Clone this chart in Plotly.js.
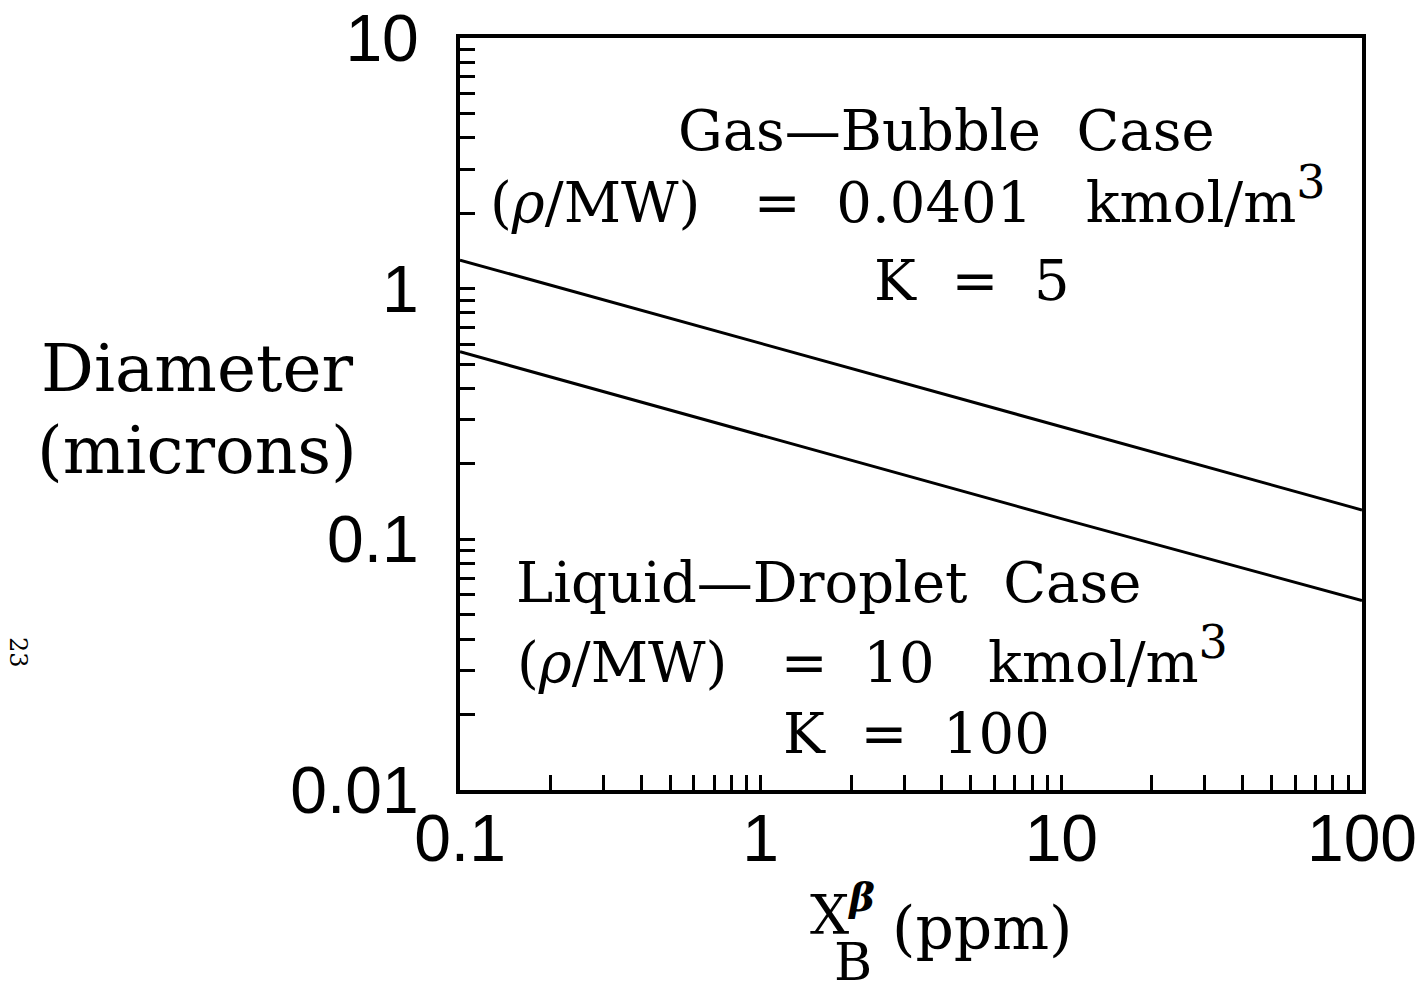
<!DOCTYPE html>
<html>
<head>
<meta charset="utf-8">
<script src="https://cdn.plot.ly/plotly-3.0.1.min.js"></script>
<style>html,body{margin:0;padding:0;background:#fff;}#chart{width:1423px;height:996px;}</style>
</head>
<body>
<div id="chart"></div>
<script>
// Data
const xPpm = [0.1, 1, 10, 100];
const gasBubbleDiameter = [1.30, 0.605, 0.280, 0.131];
const liquidDropletDiameter = [0.56, 0.26, 0.121, 0.057];

const xTickVals = [0.1,0.2,0.3,0.4,0.5,0.6,0.7,0.8,0.9,1,2,3,4,5,6,7,8,9,10,20,30,40,50,60,70,80,90,100];
const xTickText = ['0.1','','','','','','','','','1','','','','','','','','','10','','','','','','','','','100'];
const yTickVals = [0.01,0.02,0.03,0.04,0.05,0.06,0.07,0.08,0.09,0.1,0.2,0.3,0.4,0.5,0.6,0.7,0.8,0.9,1,2,3,4,5,6,7,8,9,10];
const yTickText = ['0.01','','','','','','','','','0.1','','','','','','','','','1','','','','','','','','','10'];

const serif = 'DejaVu Serif';
const sans = 'Liberation Sans';

const traces = [
  {x: xPpm, y: gasBubbleDiameter, mode: 'lines', line: {color: '#000', width: 3}, name: 'Gas-Bubble Case'},
  {x: xPpm, y: liquidDropletDiameter, mode: 'lines', line: {color: '#000', width: 3}, name: 'Liquid-Droplet Case'}
];

// pixel helpers for annotations (plot area 460..1362 x, 38..790 y)
const L = 460, R = 1362, T = 38, B = 790;
const px = v => (v - L) / (R - L);
const py = v => (B - v) / (B - T);

function ann(text, x, y, size, opts) {
  return Object.assign({text: text, xref: 'paper', yref: 'paper', x: px(x), y: py(y),
    showarrow: false, xanchor: 'center', yanchor: 'middle',
    font: {family: serif, size: size, color: '#000'}}, opts || {});
}

const cube = '<sup><span style="font-size:46px">3</span></sup>';
const annotations = [
  ann('Gas—Bubble  Case', 946, 130, 56),
  ann('(<i>ρ</i>/MW)   =  0.0401   kmol/m' + cube, 908, 195, 56),
  ann('K  =  5', 972, 280, 56),
  ann('Liquid—Droplet  Case', 828, 582, 56),
  ann('(<i>ρ</i>/MW)   =  10   kmol/m' + cube, 872, 655, 56),
  ann('K  =  100', 916, 733, 56),
  ann('Diameter', 197, 368, 66),
  ann('(microns)', 197, 450, 66),
  ann('X<sup><b><i>β</i></b></sup>', 808, 911, 55, {xanchor: 'left'}),
  ann('B', 853, 962, 52),
  ann('(ppm)', 982, 928, 60),
  ann('23', 18, 652, 24, {textangle: 90})
];

const layout = {
  width: 1423, height: 996,
  margin: {l: L, r: 1423 - R, t: T, b: 996 - B},
  paper_bgcolor: '#fff', plot_bgcolor: '#fff',
  showlegend: false,
  xaxis: {
    type: 'log', range: [-1, 2],
    tickmode: 'array', tickvals: xTickVals, ticktext: xTickText,
    ticks: 'inside', ticklen: 15, tickwidth: 3, tickcolor: '#000',
    showline: true, linewidth: 4, linecolor: '#000', mirror: true,
    showgrid: false, zeroline: false,
    ticklabelstandoff: -12,
    tickfont: {family: sans, size: 66, color: '#000'}
  },
  yaxis: {
    type: 'log', range: [-2, 1],
    tickmode: 'array', tickvals: yTickVals, ticktext: yTickText,
    ticks: 'inside', ticklen: 15, tickwidth: 3, tickcolor: '#000',
    showline: true, linewidth: 4, linecolor: '#000', mirror: true,
    showgrid: false, zeroline: false,
    ticklabelstandoff: 24,
    tickfont: {family: sans, size: 66, color: '#000'}
  },
  annotations: annotations
};

Plotly.newPlot('chart', traces, layout, {staticPlot: true});
</script>
</body>
</html>
